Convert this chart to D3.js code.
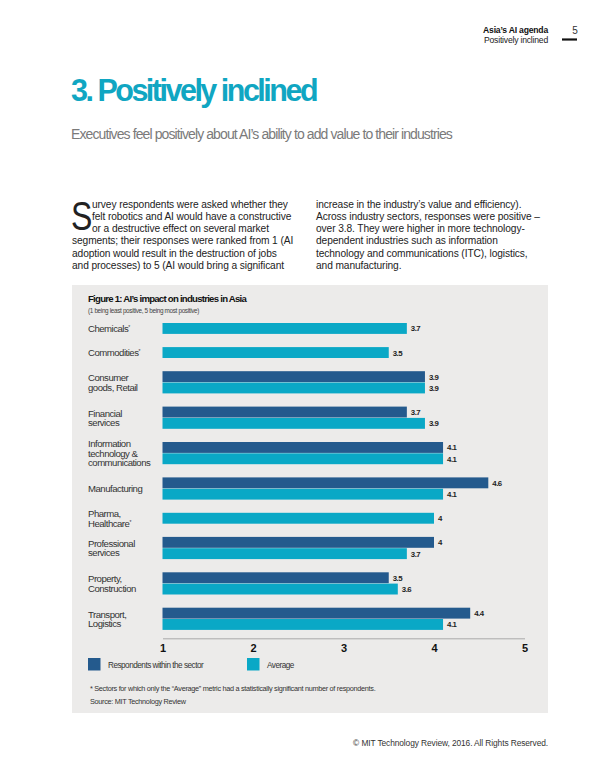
<!DOCTYPE html>
<html>
<head>
<meta charset="utf-8">
<script src="https://cdn.jsdelivr.net/npm/d3@7"></script>
<style>
  body { margin: 0; background: #fff; }
  svg { display: block; }
</style>
</head>
<body>
<script>
// data
const categories = [
  ["Chemicals*"],
  ["Commodities*"],
  ["Consumer", "goods, Retail"],
  ["Financial", "services"],
  ["Information", "technology &", "communications"],
  ["Manufacturing"],
  ["Pharma,", "Healthcare*"],
  ["Professional", "services"],
  ["Property,", "Construction"],
  ["Transport,", "Logistics"]
];
const respondents = [null, null, 3.9, 3.7, 4.1, 4.6, null, 4, 3.5, 4.4];
const average = [3.7, 3.5, 3.9, 3.9, 4.1, 4.1, 4, 3.7, 3.6, 4.1];
const ticks = [1, 2, 3, 4, 5];
const legendLabels = ["Respondents within the sector", "Average"];

const dark = "#245a8d", teal = "#0aa8c6", teal_title = "#10a6c2";
const width = 600, height = 771;
const font = "'Liberation Sans', Arial, sans-serif";

let svg = d3.select("body").append("svg").attr("width", width).attr("height", height);

// header
svg.append("text").attr("x", 548).attr("y", 33).attr("text-anchor", "end")
  .attr("font-family", font).attr("font-weight", "bold").attr("font-size", 8.6).attr("letter-spacing", -0.2)
  .attr("fill", "#111").text("Asia’s AI agenda");
svg.append("text").attr("x", 548).attr("y", 42.5).attr("text-anchor", "end")
  .attr("font-family", font).attr("font-size", 8.6).attr("letter-spacing", -0.2)
  .attr("fill", "#222").text("Positively inclined");
svg.append("text").attr("x", 575).attr("y", 33.5).attr("text-anchor", "middle")
  .attr("font-family", font).attr("font-size", 10).attr("fill", "#333").text("5");
svg.append("line").attr("x1", 562).attr("x2", 577).attr("y1", 39.5).attr("y2", 39.5)
  .attr("stroke", "#111").attr("stroke-width", 2.2);

// title
svg.append("text").attr("x", 71).attr("y", 101).attr("font-family", font).attr("font-weight", "bold")
  .attr("font-size", 30.5).attr("letter-spacing", -2.5).attr("fill", teal_title).text("3. Positively inclined");
svg.append("text").attr("x", 71).attr("y", 139).attr("font-family", font)
  .attr("font-size", 14).attr("letter-spacing", -0.9).attr("fill", "#7a7a7a")
  .text("Executives feel positively about AI’s ability to add value to their industries");

// body text, drop cap narrowed to fit the indent
svg.append("text").attr("transform", "translate(71,229.5) scale(0.78,1)")
  .attr("font-family", font).attr("font-size", 41).attr("font-weight", 300)
  .attr("fill", "#222").text("S");
const leftCol = [
  [92, "urvey respondents were asked whether they"],
  [92, "felt robotics and AI would have a constructive"],
  [92, "or a destructive effect on several market"],
  [72, "segments; their responses were ranked from 1 (AI"],
  [72, "adoption would result in the destruction of jobs"],
  [72, "and processes) to 5 (AI would bring a significant"]
];
const rightCol = [
  "increase in the industry’s value and efficiency).",
  "Across industry sectors, responses were positive –",
  "over 3.8. They were higher in more technology-",
  "dependent industries such as information",
  "technology and communications (ITC), logistics,",
  "and manufacturing."
];
leftCol.forEach((l, i) => {
  svg.append("text").attr("x", l[0]).attr("y", 207.5 + i * 12.3).attr("font-family", font)
    .attr("font-size", 10.2).attr("letter-spacing", -0.1).attr("fill", "#222").text(l[1]);
});
rightCol.forEach((l, i) => {
  svg.append("text").attr("x", 316).attr("y", 207.5 + i * 12.3).attr("font-family", font)
    .attr("font-size", 10.2).attr("letter-spacing", -0.1).attr("fill", "#222").text(l);
});

// chart panel
svg.append("rect").attr("x", 72).attr("y", 285).attr("width", 476).attr("height", 428).attr("fill", "#ecebea");
svg.append("text").attr("x", 88).attr("y", 302).attr("font-family", font).attr("font-weight", "bold")
  .attr("font-size", 9.6).attr("letter-spacing", -0.75).attr("fill", "#111")
  .text("Figure 1: AI’s impact on industries in Asia");
svg.append("text").attr("x", 88).attr("y", 312.5).attr("font-family", font)
  .attr("font-size", 6.4).attr("letter-spacing", -0.35).attr("fill", "#444")
  .text("(1 being least positive, 5 being most positive)");

let x = d3.scaleLinear().domain([1, 5]).range([162.5, 524.5]);

// vertical layout: groups stacked with variable number of bars
const bh = 11.3, gap = 12.8, top0 = 323;
let groups = [];
let cur = top0;
categories.forEach((c, i) => {
  let bars = [];
  if (respondents[i] != null) bars.push({ v: respondents[i], color: dark });
  bars.push({ v: average[i], color: teal });
  bars.forEach((b, j) => { b.y = cur + j * bh; });
  groups.push({ label: c, bars: bars, center: cur + bars.length * bh / 2 });
  cur += bars.length * bh + gap;
});

let g = svg.selectAll("g.grp").data(groups).join("g").attr("class", "grp");
g.selectAll("rect").data(d => d.bars).join("rect")
  .attr("x", x(1)).attr("y", d => d.y)
  .attr("width", d => x(d.v) - x(1)).attr("height", bh - 0.4)
  .attr("fill", d => d.color);
g.selectAll("text.val").data(d => d.bars).join("text").attr("class", "val")
  .attr("x", d => x(d.v) + 4).attr("y", d => d.y + bh / 2 + 2.8)
  .attr("font-family", font).attr("font-weight", "bold").attr("font-size", 7.8)
  .attr("letter-spacing", -0.5).attr("fill", "#222").text(d => d3.format("")(d.v));

// category labels
g.each(function (d) {
  let n = d.label.length, lh = 9.6;
  let t = d3.select(this).append("text").attr("font-family", font).attr("font-size", 9.6)
    .attr("letter-spacing", -0.5).attr("fill", "#333");
  d.label.forEach((l, k) => {
    let yy = d.center + (k - (n - 1) / 2) * lh + 3.4;
    let star = l.endsWith("*");
    t.append("tspan").attr("x", 88).attr("y", yy).text(star ? l.slice(0, -1) : l);
    if (star) t.append("tspan").attr("dy", -3).attr("font-size", 5).text("*");
  });
});

// axis
let axis = svg.append("g").attr("transform", `translate(0,${cur - gap + 8})`)
  .call(d3.axisBottom(x).tickValues(ticks).tickSize(0).tickPadding(6).tickFormat(d3.format("d")));
axis.select(".domain").attr("stroke", "#999").attr("stroke-width", 0.8);
axis.selectAll("text").attr("font-family", font).attr("font-weight", "bold").attr("font-size", 11).attr("fill", "#111");

// legend
const legColors = [dark, teal];
const legX = [88, 247];
legendLabels.forEach((l, i) => {
  svg.append("rect").attr("x", legX[i]).attr("y", 658).attr("width", 12.5).attr("height", 12.5).attr("fill", legColors[i]);
  svg.append("text").attr("x", legX[i] + 20).attr("y", 667.5).attr("font-family", font)
    .attr("font-size", 8.2).attr("letter-spacing", -0.5).attr("fill", "#333").text(l);
});

svg.append("text").attr("x", 90).attr("y", 690.5).attr("font-family", font).attr("font-size", 7.3)
  .attr("letter-spacing", -0.3).attr("fill", "#333")
  .text("* Sectors for which only the “Average” metric had a statistically significant number of respondents.");
svg.append("text").attr("x", 90).attr("y", 703.5).attr("font-family", font).attr("font-size", 7.3)
  .attr("letter-spacing", -0.3).attr("fill", "#333").text("Source: MIT Technology Review");

svg.append("text").attr("x", 548).attr("y", 746).attr("text-anchor", "end").attr("font-family", font)
  .attr("font-size", 8.4).attr("letter-spacing", -0.1).attr("fill", "#333")
  .text("© MIT Technology Review, 2016. All Rights Reserved.");
</script>
</body>
</html>
